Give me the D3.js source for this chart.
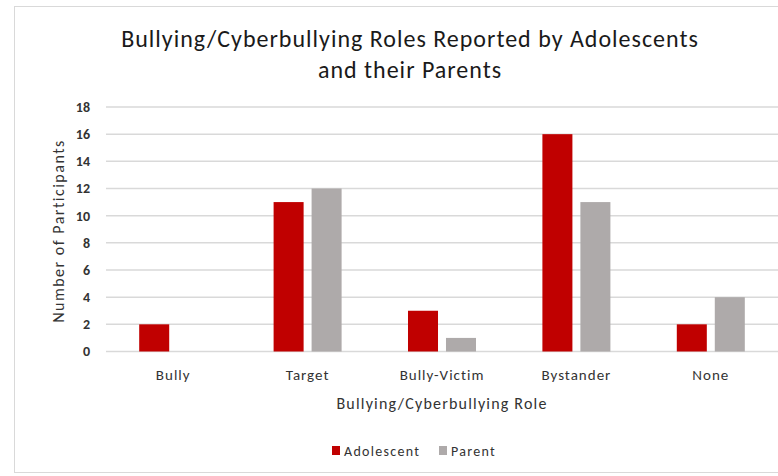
<!DOCTYPE html>
<html>
<head>
<meta charset="utf-8">
<script src="https://cdn.jsdelivr.net/npm/d3@7"></script>
<style>
  body { margin: 0; background: #fff; }
  svg { display: block; font-family: Carlito, Calibri, Lato, sans-serif; }
</style>
</head>
<body>
<div id="chart"></div>
<script>
// Data
const roles = ["Bully", "Target", "Bully-Victim", "Bystander", "None"];
const seriesNames = ["Adolescent", "Parent"];
const adolescentValues = [2, 11, 3, 16, 2];
const parentValues = [0, 12, 1, 11, 4];
const yTicks = [0, 2, 4, 6, 8, 10, 12, 14, 16, 18];

const colors = { Adolescent: "#c00000", Parent: "#aeaaaa" };

const width = 778;
const height = 476;
const margin = { top: 107, right: 0, bottom: 125, left: 106 };

const rows = roles.map((role, i) => ({
	role: role,
	Adolescent: adolescentValues[i],
	Parent: parentValues[i],
}));

const svg = d3
	.select("#chart")
	.append("svg")
	.attr("width", width)
	.attr("height", height);

// Chart area border
svg.append("rect")
	.attr("x", 14.5)
	.attr("y", 6.5)
	.attr("width", width)
	.attr("height", 466)
	.attr("fill", "#fff")
	.attr("stroke", "#d9d9d9");

const x0 = d3
	.scaleBand()
	.domain(roles)
	.range([margin.left, width - margin.right])
	.paddingInner(0.494)
	.paddingOuter(0.247);

const x1 = d3
	.scaleBand()
	.domain(seriesNames)
	.range([0, x0.bandwidth()])
	.paddingInner(0.21);

const y = d3
	.scaleLinear()
	.domain([0, 18])
	.range([height - margin.bottom + 0.5, margin.top]);

// Gridlines
svg.append("g")
	.selectAll("line")
	.data(yTicks)
	.join("line")
	.attr("x1", margin.left)
	.attr("x2", width - margin.right)
	.attr("y1", (d) => y(d))
	.attr("y2", (d) => y(d))
	.attr("stroke", "#d9d9d9")
	.attr("stroke-width", 1.5);

// Y axis labels
const yAxis = d3.axisLeft(y).tickValues(yTicks).tickSize(0).tickPadding(16);
svg.append("g")
	.attr("transform", `translate(${margin.left},0)`)
	.call(yAxis)
	.call((g) => g.select(".domain").remove())
	.call((g) =>
		g.selectAll("text")
			.attr("fill", "#333")
			.style("font-size", "14px")
			.style("font-weight", "bold")
			.style("font-family", "Carlito, Calibri, Lato, sans-serif")
	);

// Bars
svg.append("g")
	.selectAll("g")
	.data(rows)
	.join("g")
	.attr("transform", (d) => `translate(${x0(d.role)},0)`)
	.selectAll("rect")
	.data((d) => seriesNames.map((s) => ({ key: s, value: d[s] })))
	.join("rect")
	.attr("x", (d) => x1(d.key))
	.attr("width", x1.bandwidth())
	.attr("y", (d) => y(d.value))
	.attr("height", (d) => y(0) - y(d.value))
	.attr("fill", (d) => colors[d.key]);

// X axis labels
const xAxis = d3.axisBottom(x0).tickSize(0).tickPadding(18);
svg.append("g")
	.attr("transform", `translate(0,${y(0)})`)
	.call(xAxis)
	.call((g) => g.select(".domain").remove())
	.call((g) =>
		g.selectAll("text")
			.attr("fill", "#333")
			.style("font-size", "15px")
			.style("letter-spacing", "1px")
			.style("font-family", "Carlito, Calibri, Lato, sans-serif")
	);

// Title
const title = svg.append("text")
	.attr("text-anchor", "middle")
	.attr("fill", "#1a1a1a")
	.style("font-size", "24px")
	.style("letter-spacing", "1px");
title.append("tspan").attr("x", 410).attr("y", 47)
	.text("Bullying/Cyberbullying Roles Reported by Adolescents");
title.append("tspan").attr("x", 410).attr("y", 78)
	.text("and their Parents");

// Axis titles
svg.append("text")
	.attr("x", (margin.left + width - margin.right) / 2)
	.attr("y", 409)
	.attr("text-anchor", "middle")
	.attr("fill", "#333")
	.style("font-size", "16px")
	.style("letter-spacing", "1.2px")
	.text("Bullying/Cyberbullying Role");

svg.append("text")
	.attr("transform", `translate(64,231) rotate(-90)`)
	.attr("text-anchor", "middle")
	.attr("fill", "#333")
	.style("font-size", "16px")
	.style("letter-spacing", "1.5px")
	.text("Number of Participants");

// Legend
const legend = svg.append("g").attr("transform", "translate(332,451)");
const legendX = [0, 107];
seriesNames.forEach((s, i) => {
	const item = legend.append("g").attr("transform", `translate(${legendX[i]},0)`);
	item.append("rect")
		.attr("x", 0)
		.attr("y", -5)
		.attr("width", 8)
		.attr("height", 9)
		.attr("fill", colors[s]);
	item.append("text")
		.attr("x", 12)
		.attr("y", 5)
		.attr("fill", "#333")
		.style("font-size", "14px")
		.style("letter-spacing", "1.3px")
		.text(s);
});
</script>
</body>
</html>
